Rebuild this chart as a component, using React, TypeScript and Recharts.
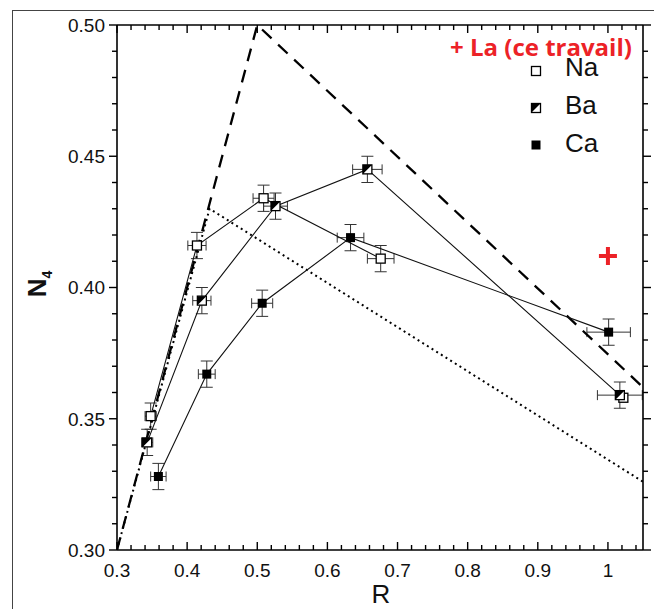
import React from "react";
import { ScatterChart, Scatter, XAxis, YAxis, ErrorBar } from "recharts";

// measured points (R, N4) with error bars
const naPoints = [
  { x: 0.348, y: 0.351, ex: 0.008, ey: 0.005 },
  { x: 0.414, y: 0.416, ex: 0.013, ey: 0.005 },
  { x: 0.509, y: 0.434, ex: 0.015, ey: 0.005 },
  { x: 0.676, y: 0.411, ex: 0.019, ey: 0.005 },
];
const naLast = [{ x: 1.022, y: 0.358 }];
const baPoints = [
  { x: 0.343, y: 0.341, ex: 0.008, ey: 0.005 },
  { x: 0.421, y: 0.395, ex: 0.013, ey: 0.005 },
  { x: 0.526, y: 0.431, ex: 0.017, ey: 0.005 },
  { x: 0.657, y: 0.445, ex: 0.021, ey: 0.005 },
  { x: 1.017, y: 0.359, ex: 0.032, ey: 0.005 },
];
const caPoints = [
  { x: 0.359, y: 0.328, ex: 0.011, ey: 0.005 },
  { x: 0.428, y: 0.367, ex: 0.012, ey: 0.005 },
  { x: 0.507, y: 0.394, ex: 0.015, ey: 0.005 },
  { x: 0.633, y: 0.419, ex: 0.019, ey: 0.005 },
  { x: 1.001, y: 0.383, ex: 0.031, ey: 0.005 },
];
const laPoints = [{ x: 1.0, y: 0.412 }];

// model curves
const dashedModel = [
  { x: 0.3, y: 0.3 },
  { x: 0.5, y: 0.5 },
  { x: 1.05, y: 0.362 },
];
const dottedModel = [
  { x: 0.3, y: 0.3 },
  { x: 0.432, y: 0.43 },
  { x: 1.05, y: 0.326 },
];

const xTicks = [
  0.3, 0.32, 0.34, 0.36, 0.38, 0.4, 0.42, 0.44, 0.46, 0.48, 0.5, 0.52, 0.54,
  0.56, 0.58, 0.6, 0.62, 0.64, 0.66, 0.68, 0.7, 0.72, 0.74, 0.76, 0.78, 0.8,
  0.82, 0.84, 0.86, 0.88, 0.9, 0.92, 0.94, 0.96, 0.98, 1.0, 1.02, 1.04,
];
const xLabels = [0.3, 0.4, 0.5, 0.6, 0.7, 0.8, 0.9, 1.0];
const yTicks = [
  0.3, 0.31, 0.32, 0.33, 0.34, 0.35, 0.36, 0.37, 0.38, 0.39, 0.4, 0.41, 0.42,
  0.43, 0.44, 0.45, 0.46, 0.47, 0.48, 0.49, 0.5,
];
const yLabels = [0.3, 0.35, 0.4, 0.45, 0.5];
const legendNames = ["Na", "Ba", "Ca"];
const laLabel = "+ La (ce travail)";

const FONT = "'Liberation Sans', Arial, sans-serif";
const RED = "#ec2227";

const isLabel = (list: number[], v: number) =>
  list.some((l) => Math.abs(l - v) < 1e-6);
const fmtX = (v: number) => (Math.abs(v - 1) < 1e-6 ? "1" : v.toFixed(1));

const Marker = ({ cx, cy, kind }: { cx: number; cy: number; kind: string }) => {
  const s = 4.5;
  if (kind === "Ca")
    return <rect x={cx - s} y={cy - s} width={2 * s} height={2 * s} fill="#000" />;
  if (kind === "Na")
    return (
      <rect
        x={cx - s}
        y={cy - s}
        width={2 * s}
        height={2 * s}
        fill="#fff"
        stroke="#000"
        strokeWidth={1.3}
      />
    );
  return (
    <g>
      <rect
        x={cx - s}
        y={cy - s}
        width={2 * s}
        height={2 * s}
        fill="#fff"
        stroke="#000"
        strokeWidth={1.3}
      />
      <path d={`M${cx - s},${cy - s}H${cx + s}L${cx - s},${cy + s}Z`} fill="#000" />
    </g>
  );
};

const RedPlus = (p: any) => (
  <path
    d={`M${p.cx - 9},${p.cy}H${p.cx + 9}M${p.cx},${p.cy - 9}V${p.cy + 9}`}
    stroke={RED}
    strokeWidth={4}
  />
);

// tick marks as thin filled rects (w, h may be negative -> normalised)
const mark = (x: number, y: number, w: number, h: number) => (
  <rect
    x={Math.min(x, x + w)}
    y={Math.min(y, y + h)}
    width={Math.abs(w)}
    height={Math.abs(h)}
    fill="#000"
  />
);

const BottomTick = (p: any) => {
  const x = Number(p.x);
  const y = Number(p.y);
  const major = isLabel(xLabels, p.payload.value);
  return (
    <g>
      {mark(x - 0.7, y, 1.4, major ? -8 : -5)}
      {major && (
        <text x={x} y={y + 27} textAnchor="middle" fontSize={19} fontFamily={FONT} fill="#111">
          {fmtX(p.payload.value)}
        </text>
      )}
    </g>
  );
};

const TopTick = (p: any) => {
  const major = isLabel(xLabels, p.payload.value);
  return <g>{mark(Number(p.x) - 0.7, Number(p.y), 1.4, major ? 8 : 5)}</g>;
};

const LeftTick = (p: any) => {
  const x = Number(p.x);
  const y = Number(p.y);
  const major = isLabel(yLabels, p.payload.value);
  return (
    <g>
      {mark(x, y - 0.7, major ? -8 : -5, 1.4)}
      {major && (
        <text x={x - 12} y={y} dy="0.36em" textAnchor="end" fontSize={19} fontFamily={FONT} fill="#111">
          {p.payload.value.toFixed(2)}
        </text>
      )}
    </g>
  );
};

const RightTick = (p: any) => {
  const major = isLabel(yLabels, p.payload.value);
  return <g>{mark(Number(p.x), Number(p.y) - 0.7, major ? 8 : 5, 1.4)}</g>;
};

const Empty = () => <g />;

export default function App() {
  return (
    <div
      style={{
        position: "fixed",
        left: 0,
        top: 0,
        width: 654,
        height: 609,
        overflow: "hidden",
        background: "#fff",
      }}
    >
      <div
        style={{
          position: "absolute",
          left: 12,
          top: 10,
          width: 700,
          height: 700,
          borderLeft: "1.5px solid #444",
          borderTop: "1.5px solid #444",
        }}
      />
      <div style={{ position: "absolute", left: 0, top: 0 }}>
        <ScatterChart
          width={654}
          height={609}
          margin={{ top: 24, right: 10, bottom: 29, left: 57 }}
        >
          <XAxis
            xAxisId="b"
            type="number"
            dataKey="x"
            domain={[0.3, 1.05]}
            allowDataOverflow
            ticks={xTicks}
            interval={0}
            tickSize={0}
            tickMargin={0}
            tickLine={false}
            tick={BottomTick}
            height={30}
            stroke="#000"
            strokeWidth={1.6}
            label={{
              content: () => (
                <text x={381} y={603} textAnchor="middle" fontSize={26} fontFamily={FONT} fill="#111">
                  R
                </text>
              ),
            }}
          />
          <XAxis
            xAxisId="t"
            orientation="top"
            type="number"
            dataKey="x"
            domain={[0.3, 1.05]}
            allowDataOverflow
            ticks={xTicks}
            interval={0}
            tickSize={0}
            tickMargin={0}
            tickLine={false}
            tick={TopTick}
            height={1}
            stroke="#000"
            strokeWidth={1.6}
          />
          <YAxis
            yAxisId="l"
            type="number"
            dataKey="y"
            domain={[0.3, 0.5]}
            allowDataOverflow
            ticks={yTicks}
            interval={0}
            tickSize={0}
            tickMargin={0}
            tickLine={false}
            tick={LeftTick}
            width={60}
            stroke="#000"
            strokeWidth={1.6}
            label={{
              content: () => (
                <text
                  x={46}
                  y={284}
                  transform="rotate(-90, 46, 284)"
                  textAnchor="middle"
                  fontSize={26}
                  fontWeight="bold"
                  fontFamily={FONT}
                  fill="#111"
                >
                  N
                  <tspan fontSize={14} dy={6}>
                    4
                  </tspan>
                </text>
              ),
            }}
          />
          <YAxis
            yAxisId="r"
            orientation="right"
            type="number"
            dataKey="y"
            domain={[0.3, 0.5]}
            allowDataOverflow
            ticks={yTicks}
            interval={0}
            tickSize={0}
            tickMargin={0}
            tickLine={false}
            tick={RightTick}
            width={1}
            stroke="#000"
            strokeWidth={1.6}
          />

          <Scatter
            xAxisId="b"
            yAxisId="l"
            data={dottedModel}
            line={{ stroke: "#000", strokeWidth: 2, strokeDasharray: "2 3.5" }}
            shape={<Empty />}
            isAnimationActive={false}
          />
          <Scatter
            xAxisId="t"
            yAxisId="r"
            data={dashedModel}
            line={{ stroke: "#000", strokeWidth: 2.3, strokeDasharray: "13 9" }}
            shape={<Empty />}
            isAnimationActive={false}
          />

          <Scatter
            name="Ca"
            xAxisId="b"
            yAxisId="l"
            data={caPoints}
            line={{ stroke: "#111", strokeWidth: 1.1 }}
            shape={(p: any) => <Marker cx={p.cx} cy={p.cy} kind="Ca" />}
            isAnimationActive={false}
          >
            <ErrorBar dataKey="ex" direction="x" width={5} stroke="#333" strokeWidth={1} />
            <ErrorBar dataKey="ey" direction="y" width={6} stroke="#333" strokeWidth={1} />
          </Scatter>
          <Scatter
            name="Na"
            xAxisId="b"
            yAxisId="l"
            data={naPoints}
            line={{ stroke: "#111", strokeWidth: 1.1 }}
            shape={(p: any) => <Marker cx={p.cx} cy={p.cy} kind="Na" />}
            isAnimationActive={false}
          >
            <ErrorBar dataKey="ex" direction="x" width={5} stroke="#333" strokeWidth={1} />
            <ErrorBar dataKey="ey" direction="y" width={6} stroke="#333" strokeWidth={1} />
          </Scatter>
          <Scatter
            xAxisId="b"
            yAxisId="l"
            data={naLast}
            shape={(p: any) => <Marker cx={p.cx} cy={p.cy} kind="Na" />}
            isAnimationActive={false}
          />
          <Scatter
            name="Ba"
            xAxisId="b"
            yAxisId="l"
            data={baPoints}
            line={{ stroke: "#111", strokeWidth: 1.1 }}
            shape={(p: any) => <Marker cx={p.cx} cy={p.cy} kind="Ba" />}
            isAnimationActive={false}
          >
            <ErrorBar dataKey="ex" direction="x" width={5} stroke="#333" strokeWidth={1} />
            <ErrorBar dataKey="ey" direction="y" width={6} stroke="#333" strokeWidth={1} />
          </Scatter>
          <Scatter
            name="La"
            xAxisId="b"
            yAxisId="l"
            data={laPoints}
            shape={<RedPlus />}
            isAnimationActive={false}
          />
        </ScatterChart>
      </div>
      <svg
        width={654}
        height={609}
        style={{ position: "absolute", left: 0, top: 0, pointerEvents: "none" }}
      >
        <text
          x={450}
          y={56}
          fontSize={24}
          fontWeight="bold"
          fontFamily="'Open Sans', sans-serif"
          fill={RED}
        >
          {laLabel}
        </text>
        {legendNames.map((name, i) => (
          <g key={name}>
            <Marker cx={536} cy={71 + i * 37} kind={name} />
            <text x={565} y={76 + i * 38} fontSize={26} fontFamily={FONT} fill="#111">
              {name}
            </text>
          </g>
        ))}
      </svg>
    </div>
  );
}
